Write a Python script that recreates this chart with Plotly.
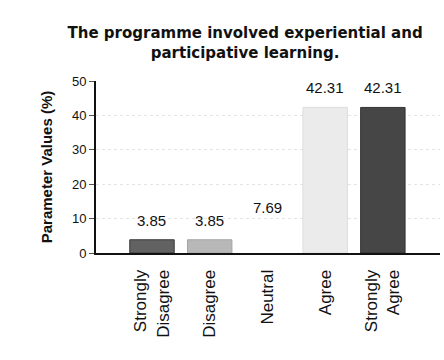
import plotly.graph_objects as go

# Survey responses (percentage of participants)
categories = ["Strongly<br>Disagree", "Disagree", "Neutral", "Agree", "Strongly<br>Agree"]
values = [3.85, 3.85, 7.69, 42.31, 42.31]
bar_colors = ["#626262", "#b8b8b8", "#ffffff", "#ebebeb", "#464646"]
edge_colors = ["#3a3a3a", "#a5a5a5", "#ffffff", "#dedede", "#333333"]
y_ticks = [0, 10, 20, 30, 40, 50]

title_text = "The programme involved experiential and<br>participative learning."
y_title = "Parameter Values (%)"

fig = go.Figure()
fig.add_trace(go.Bar(
    x=categories,
    y=values,
    width=0.77,
    marker=dict(color=bar_colors, line=dict(color=edge_colors, width=1)),
    showlegend=False,
))

# Value labels above each bar
for cat, val in zip(categories, values):
    fig.add_annotation(
        x=cat, y=val, text=f"{val:.2f}", showarrow=False,
        yanchor="bottom", yshift=9,
        font=dict(family="Arial, Liberation Sans", size=15, color="#111111"),
    )

fig.update_layout(
    width=444, height=360,
    margin=dict(l=96, r=4, t=81, b=107),
    paper_bgcolor="white", plot_bgcolor="white",
    title=dict(
        text=title_text, x=0.552, xanchor="center",
        y=1 - 38 / 360, yanchor="middle", yref="container",
        font=dict(family="DejaVu Sans", size=15, color="#111111", weight="bold"),
    ),
)

fig.update_xaxes(
    type="category", range=[-0.97, 4.99],
    showline=True, linecolor="#111111", linewidth=2,
    tickangle=-90, ticks="", ticklabelstandoff=8,
    tickfont=dict(family="Arial, Liberation Sans", size=17, color="#111111"),
    showgrid=False,
)
fig.update_yaxes(
    range=[0, 50], tickvals=y_ticks,
    showline=True, linecolor="#111111", linewidth=2,
    ticks="outside", ticklen=5, tickcolor="#555555", tickwidth=1,
    tickfont=dict(family="Arial, Liberation Sans", size=13, color="#111111"),
    showgrid=True, gridcolor="#e4e4e4", griddash="dot", gridwidth=1,
    zeroline=False,
    title=dict(text=y_title, standoff=16,
               font=dict(family="Arial, Liberation Sans", size=15, color="#111111", weight="bold")),
)

fig.write_html("out.html")
